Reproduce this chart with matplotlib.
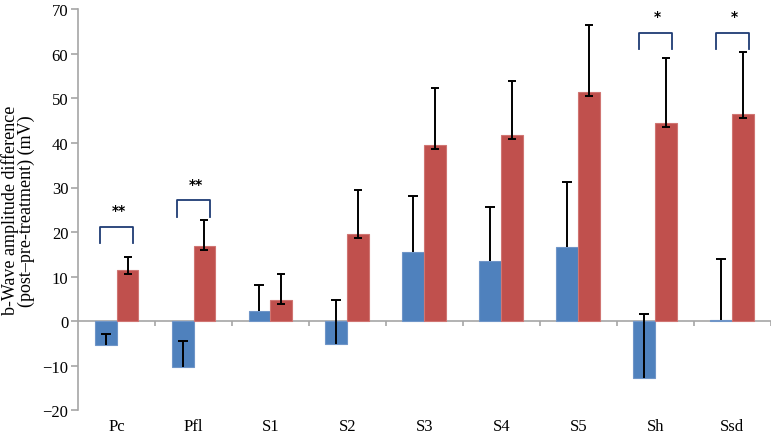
import numpy as np
import matplotlib
matplotlib.use("Agg")
import matplotlib.pyplot as plt

# groups on the x axis
categories = ["Pc", "Pfl", "S1", "S2", "S3", "S4", "S5", "Sh", "Ssd"]

# blue series (mean difference and upper error)
blue_vals = [-5.3, -10.4, 2.25, -5.1, 15.4, 13.5, 16.6, -12.9, 0.2]
blue_err = [2.4, 5.9, 5.95, 9.75, 12.8, 12.2, 14.7, 14.55, 13.7]

# red series (mean difference, lower and upper error)
red_vals = [11.5, 16.8, 4.65, 19.6, 39.6, 41.8, 51.5, 44.4, 46.5]
red_err_lo = [1.0, 0.9, 0.9, 1.0, 0.9, 0.9, 0.9, 0.9, 0.9]
red_err_hi = [2.8, 6.0, 5.95, 9.8, 12.7, 12.2, 14.9, 14.6, 13.9]

# significance brackets
sig_labels = ["**", "**", "", "", "", "", "", "*", "*"]
sig_top = [21.2, 27.1, 0, 0, 0, 0, 0, 64.7, 64.7]
sig_leg = [17.6, 23.4, 0, 0, 0, 0, 0, 61.1, 61.1]

y_ticks = [-20, -10, 0, 10, 20, 30, 40, 50, 60, 70]

plt.rcParams["font.family"] = ["Liberation Serif", "DejaVu Serif"]

fig = plt.figure(figsize=(7.73, 4.35), dpi=100)
ax = fig.add_axes([0.101, 0.055, 0.896, 0.921])

x = np.arange(len(categories))
w = 0.285
blue_c = "#4F81BD"
red_c = "#C0504D"
grey = "#A6A6A6"

ax.bar(x - w / 2, blue_vals, w, color=blue_c, edgecolor="#6F95C8", linewidth=0.8, zorder=2)
ax.bar(x + w / 2, red_vals, w, color=red_c, edgecolor="#D07572", linewidth=0.8, zorder=2)

# blue error bars go only upward, cap at the top only
bv = np.array(blue_vals)
be = np.array(blue_err)
ax.vlines(x - w / 2, bv, bv + be, color="black", linewidth=1.4, zorder=4)
ax.plot(x - w / 2, bv + be, linestyle="none", marker="_", markersize=7,
        markeredgewidth=1.4, color="black", zorder=4)

# red error bars with a small lower cap
ax.errorbar(x + w / 2, red_vals, yerr=[red_err_lo, red_err_hi], fmt="none",
            ecolor="black", elinewidth=1.4, capsize=2.6, capthick=1.4, zorder=4)

# zero line and category separators
ax.axhline(0, color=grey, linewidth=1.2, zorder=1.5)
bounds = np.arange(len(categories) + 1) - 0.5
ax.vlines(bounds[1:], -1.1, 0, color=grey, linewidth=1.2, zorder=1.5)

# significance brackets
for i, lab in enumerate(sig_labels):
    if not lab:
        continue
    x0, x1 = i - 0.215, i + 0.22
    ax.plot([x0, x0, x1, x1], [sig_leg[i], sig_top[i], sig_top[i], sig_leg[i]],
            color="#1F3C74", linewidth=1.3, zorder=5)
    ax.text(i + 0.03, sig_top[i] + 2.2, lab, ha="center", va="bottom",
            fontsize=10, fontweight="bold", family="DejaVu Sans")

ax.set_xlim(-0.5, len(categories) - 0.5)
ax.set_ylim(-20, 70)
ax.set_yticks(y_ticks)
ax.set_yticklabels([str(t).replace("-", "\u2212") for t in y_ticks], fontsize=12)
ax.set_xticks(x)
ax.set_xticklabels(categories, fontsize=12)
ax.tick_params(axis="x", length=0, pad=6)
ax.tick_params(axis="y", length=5, color=grey, width=1.2, pad=2)

for side in ["top", "right", "bottom"]:
    ax.spines[side].set_visible(False)
ax.spines["left"].set_color(grey)
ax.spines["left"].set_linewidth(1.2)

ax.set_ylabel("b-Wave amplitude difference\n(post\u2013pre-treatment) (mV)",
              fontsize=13, linespacing=0.95, labelpad=5)

fig.savefig("out.png", dpi=100)
